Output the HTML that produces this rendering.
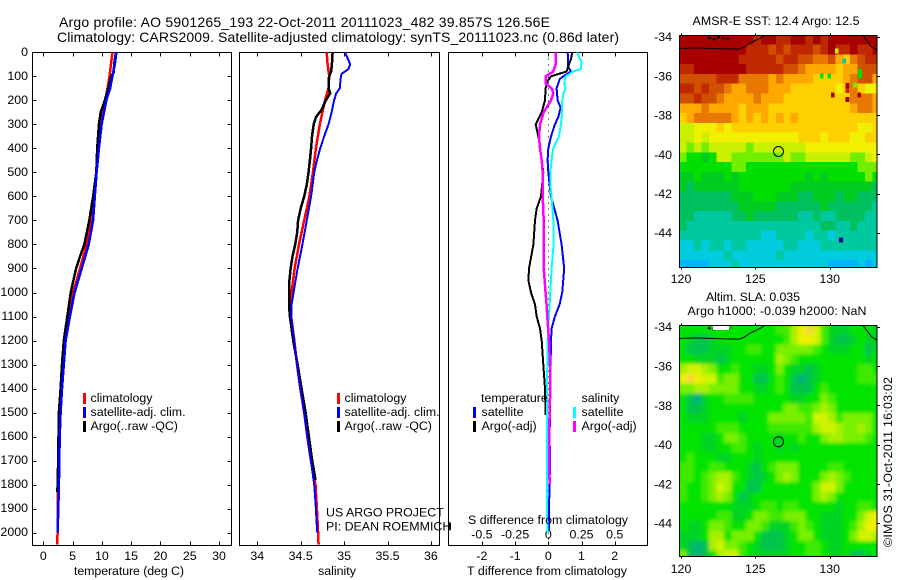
<!DOCTYPE html>
<html>
<head>
<meta charset="utf-8">
<title>Argo profile</title>
<style>
html,body{margin:0;padding:0;background:#fff;width:900px;height:580px;overflow:hidden}
svg{display:block}
text{font-family:"Liberation Sans",sans-serif;font-size:12.4px;fill:#000}
.title{font-size:14px}
</style>
</head>
<body>
<svg id="chart" xmlns="http://www.w3.org/2000/svg" width="900" height="580" viewBox="0 0 900 580">
<defs>
<clipPath id="clip-sst"><rect x="679.5" y="35.5" width="197" height="231.5"/></clipPath>
<clipPath id="clip-sla"><rect x="679.5" y="325.5" width="197" height="231"/></clipPath>
<filter id="sla-blur" x="-5%" y="-5%" width="110%" height="110%"><feGaussianBlur stdDeviation="1.8"/></filter>
</defs>
<text class="title" x="59" y="27" textLength="491">Argo profile: AO 5901265_193 22-Oct-2011 20111023_482 39.857S 126.56E</text>
<text class="title" x="57" y="42" textLength="562">Climatology: CARS2009. Satellite-adjusted climatology: synTS_20111023.nc (0.86d later)</text>

<g id="marks"></g>

<text x="129" y="575" text-anchor="middle" textLength="110">temperature (deg C)</text>
<text x="337" y="575" text-anchor="middle">salinity</text>
<text x="547" y="575" text-anchor="middle" textLength="160">T difference from climatology</text>
<text x="468" y="524" textLength="160">S difference from climatology</text>

<g>
<rect x="83" y="393" width="3" height="11" fill="#f00"/>
<rect x="83" y="407" width="3" height="11" fill="#00f"/>
<rect x="83" y="421" width="3" height="11" fill="#000"/>
<text x="90.5" y="402">climatology</text>
<text x="90.5" y="416">satellite-adj. clim.</text>
<text x="90.5" y="430">Argo(..raw -QC)</text>
</g>
<g>
<rect x="337" y="393" width="3" height="11" fill="#f00"/>
<rect x="337" y="407" width="3" height="11" fill="#00f"/>
<rect x="337" y="421" width="3" height="11" fill="#000"/>
<text x="344.5" y="402">climatology</text>
<text x="344.5" y="416">satellite-adj. clim.</text>
<text x="344.5" y="430">Argo(..raw -QC)</text>
</g>
<text x="326" y="516.5">US ARGO PROJECT</text>
<text x="326" y="530.5">PI: DEAN ROEMMICH</text>
<g>
<text x="481" y="402">temperature</text>
<text x="581.5" y="402">salinity</text>
<rect x="473" y="407" width="3" height="11" fill="#00f"/>
<rect x="473" y="421" width="3" height="11" fill="#000"/>
<rect x="573" y="407" width="3" height="11" fill="#0ff"/>
<rect x="573" y="421" width="3" height="11" fill="#f0f"/>
<text x="481.5" y="416">satellite</text>
<text x="481.5" y="430">Argo(-adj)</text>
<text x="581.5" y="416">satellite</text>
<text x="581.5" y="430">Argo(-adj)</text>
</g>
<path d="M448 526.5H451M450.5 523V530" stroke="#000" fill="none" shape-rendering="crispEdges"/>

<text x="776" y="25" text-anchor="middle" textLength="167">AMSR-E SST: 12.4  Argo: 12.5</text>
<text x="753" y="301" text-anchor="middle" textLength="94">Altim. SLA: 0.035</text>
<text x="777" y="315" text-anchor="middle" textLength="179">Argo h1000: -0.039 h2000: NaN</text>
<text transform="translate(892,547) rotate(-90)" textLength="170">©IMOS 31-Oct-2011 16:03:02</text>
</svg>

<script>
/* ---- profile data ---- */
const depthTicks = [0,100,200,300,400,500,600,700,800,900,1000,1100,1200,1300,1400,1500,1600,1700,1800,1900,2000];
const tempTicks = [0,5,10,15,20,25,30];
const salTicks = [34,34.5,35,35.5,36];
const diffTicks = [-2,-1,0,1,2];
const diffTickLabels = ['-2','-1','0','1','2'];
const sDiffTickLabels = ['-0.5','-0.25','0','0.25','0.5'];

const tempClimDepth = [0,100,200,300,400,500,600,700,800,900,1000,1100,1200,1300,1400,1500,1600,1700,1800,1900,2000,2050];
const tempClim = [11.8,11.3,10.6,9.7,9.3,9.05,8.7,8.25,7.4,6.26,5.1,4.4,3.75,3.4,3.07,2.85,2.73,2.67,2.5,2.5,2.45,2.35];
const tempSatDepth = [0,50,100,150,200,250,300,400,500,600,700,800,900,1000,1100,1200,1300,1400,1500,1600,1700,1800,1900,2000];
const tempSat = [12.46,12.2,11.8,11.4,10.75,10.36,9.96,9.5,9.1,8.8,8.5,7.75,6.55,5.35,4.55,3.8,3.5,3.2,2.96,2.8,2.73,2.67,2.56,2.45];
const tempArgoDepth = [0,50,85,100,150,200,250,300,400,500,600,700,800,850,900,1000,1100,1200,1300,1400,1500,1600,1700,1830];
const tempArgo = [12.4,12.1,12,11.6,11.1,10.5,9.8,9.5,9.2,9.05,8.5,7.85,7,6.26,5.6,4.67,4.1,3.5,3.2,2.96,2.67,2.6,2.55,2.4];

const salClimDepth = [0,50,100,150,200,250,300,400,500,600,700,800,900,1000,1100,1200,1300,1400,1500,1600,1700,1800,1900,2000,2050];
const salClim = [34.8,34.81,34.83,34.82,34.78,34.75,34.72,34.675,34.64,34.6,34.54,34.48,34.43,34.395,34.39,34.426,34.457,34.495,34.54,34.576,34.618,34.67,34.687,34.7,34.706];
const salSatDepth = [0,20,50,70,90,110,150,170,200,250,300,350,400,450,500,600,700,800,900,1000,1050,1100,1200,1300,1400,1500,1600,1700,1800,1900,2000];
const salSat = [35.01,35.035,35.07,35.05,34.97,34.96,34.95,34.91,34.885,34.856,34.82,34.77,34.725,34.687,34.656,34.62,34.57,34.52,34.464,34.418,34.395,34.39,34.426,34.457,34.495,34.54,34.576,34.618,34.656,34.675,34.69];
const salArgoDepth = [0,50,80,110,150,170,200,240,270,300,350,400,450,500,550,600,650,700,750,800,850,900,950,1000,1050,1100,1200,1300,1400,1500,1600,1700,1780];
const salArgo = [34.867,34.86,34.85,34.82,34.82,34.84,34.79,34.74,34.675,34.65,34.63,34.62,34.606,34.59,34.57,34.54,34.5,34.47,34.46,34.437,34.405,34.384,34.37,34.365,34.365,34.375,34.414,34.464,34.51,34.556,34.595,34.633,34.67];

const dTempSatDepth = [0,30,60,80,110,150,200,230,270,300,350,400,450,500,550,600,650,700,800,900,1000,1050,1100,1150,1200,1300,1400,1500,1600,1700,1800,1900,1990];
const dTempSat = [0.58,0.6,0.6,0.68,0.35,0.25,0.28,0.37,0.3,0.2,0.08,0,-0.02,0,0.04,0.08,0.18,0.28,0.4,0.48,0.42,0.34,0.2,0.1,0.08,0.07,0.06,0.05,0.04,0.05,0.04,0.02,0.02];
const dTempArgoDepth = [0,30,50,80,100,120,150,200,250,300,350,400,500,600,650,700,800,900,950,1000,1050,1100,1150,1200,1300,1400,1510];
const dTempArgo = [0.72,0.68,0.62,0.55,0.08,-0.02,-0.08,-0.1,-0.2,-0.38,-0.3,-0.24,-0.15,-0.22,-0.35,-0.4,-0.45,-0.58,-0.6,-0.52,-0.4,-0.35,-0.25,-0.2,-0.15,-0.1,-0.08];
const dSalSatDepth = [0,20,40,70,80,100,130,150,170,200,250,300,350,400,450,500,550,600,700,800,900,1000,1100,1200,1300,1400,1700,2000];
const dSalSat = [0.44,0.465,0.5,0.49,0.375,0.26,0.24,0.26,0.23,0.21,0.21,0.19,0.16,0.075,0.05,0.03,0.03,0.05,0.075,0.08,0.05,0.03,0.01,-0.01,-0.015,-0.02,-0.02,-0.015];
const dSalArgoDepth = [0,50,80,100,130,150,170,200,250,300,350,400,450,500,600,700,800,900,1000,1050,1100,1200,1300,1400,1500,1600,1700,1800];
const dSalArgo = [0.115,0.11,0.075,-0.04,-0.04,0.05,0.075,0.04,-0.07,-0.125,-0.14,-0.125,-0.1,-0.085,-0.085,-0.07,-0.07,-0.07,-0.04,-0.025,-0.015,0.01,0.025,0.03,0.02,0.015,0.015,0.02];

/* ---- map data ---- */
const lonTicks = [120,125,130];
const latTicks = [-34,-36,-38,-40,-42,-44];
const coastLonWest = [119.9,121,122,123,123.9,124.2,124.6,125,125.4,125.7];
const coastLatWest = [-34.6,-34.57,-34.6,-34.62,-34.63,-34.55,-34.35,-34.2,-34.05,-33.9];
const coastLonEast = [132.2,132.5,132.8,133.2];
const coastLatEast = [-33.9,-34.2,-34.5,-34.7];
const islandLon = [121.8,122.2,122.6,123,123.4];
const islandLat = [-34.05,-34.15,-34.0,-34.12,-34.05];
const floatLon = 126.56;
const floatLat = -39.857;

const sstPalette = ['#00b4ff','#00ccdd','#00c8a0','#00c060','#00cc20','#00e000','#70f000','#c8f000','#f0f000','#ffd000','#ffa800','#e87800','#d05000','#c02800','#a80000','#0000a0'];
const sstRows = [
[14,14,14,14,14,14,14,14,14,14,13,14,14,13,13,14,14,13,14,13,14,14,14,14,14,14,14],
[14,14,14,14,14,14,14,14,14,13,13,13,12,13,12,13,13,13,12,13,14,13,13,14,13,13,14],
[14,14,14,14,14,14,14,14,13,13,13,13,13,12,13,13,12,12,11,11,12,10,9,11,12,13,13],
[13,13,14,14,14,14,14,14,14,13,13,13,13,13,12,12,11,10,10,10,10,9,10,10,12,12,12],
[12,12,12,12,12,13,13,13,11,11,11,11,10,11,10,10,10,10,9,9,9,9,10,11,12,12,10],
[13,13,12,13,12,12,11,10,10,11,11,11,10,10,10,9,9,9,9,9,9,8,9,11,9,8,8],
[12,12,13,12,12,11,10,10,10,10,11,10,10,10,9,9,9,9,9,9,9,9,9,11,11,11,10],
[10,10,10,11,10,10,10,10,9,10,10,10,9,9,9,9,9,9,9,9,9,9,9,10,11,11,10],
[9,10,11,11,11,11,11,10,9,10,9,10,9,10,9,10,9,9,9,9,9,9,9,9,9,9,9],
[7,7,8,8,8,9,8,9,9,9,9,9,9,9,9,9,9,9,9,9,9,9,9,9,8,8,9],
[7,7,8,7,8,8,8,8,8,8,8,8,8,8,8,8,9,9,9,8,9,9,9,8,8,9,9],
[7,6,7,6,7,7,7,7,7,6,7,7,7,7,7,7,7,8,8,8,8,8,8,8,8,8,8],
[6,5,5,4,5,7,7,6,6,6,6,6,6,6,7,6,6,7,7,7,7,7,7,6,6,7,8],
[5,5,5,5,5,5,5,6,6,5,5,5,5,5,5,5,5,5,5,5,5,5,5,5,6,6,6],
[4,4,5,4,4,4,5,4,5,5,5,5,5,5,5,5,5,4,5,4,5,5,5,5,5,6,5],
[4,3,4,4,4,4,4,4,5,5,5,5,5,5,5,4,4,4,4,4,4,4,4,4,4,4,3],
[3,3,3,3,3,3,3,4,4,4,5,5,5,4,4,4,3,3,4,4,4,3,4,4,3,3,3],
[3,3,3,3,3,3,3,3,4,4,4,4,4,3,3,3,3,3,3,4,3,3,3,3,3,3,2],
[3,3,2,2,2,2,2,3,3,4,3,3,3,3,3,3,2,2,3,2,2,3,3,3,3,2,2],
[3,2,2,2,2,2,2,2,2,2,2,2,2,2,2,2,2,2,2,3,3,2,2,3,2,2,2],
[2,2,2,2,2,2,2,2,2,2,2,1,1,2,2,2,2,1,2,2,1,2,2,2,2,2,2],
[1,1,2,1,2,2,1,2,2,1,1,1,1,1,2,2,1,1,1,2,2,2,2,2,2,2,2],
[1,1,1,1,1,1,2,1,1,1,1,1,1,2,1,1,1,1,1,1,1,1,1,1,1,1,1],
[0,0,0,0,1,1,1,2,1,1,1,1,1,1,1,1,1,1,1,1,0,0,0,0,1,0,1]
];
const sstSpotLon = [129.46,129.97,130.47,130.98,132.04,132.04,131.7,130.2,131.2,131.2,131.2,132,130.76];
const sstSpotLat = [-36,-36,-34.73,-35.24,-35.78,-36,-36.47,-36.97,-36.5,-36.75,-37.2,-36.97,-44.37];
const sstSpotLevel = [5,5,7,2,5,5,6,14,14,13,14,14,15];

const slaPalette = ['#00b478','#00c44c','#00d420','#00e400','#3cea00','#78f000','#a8f000','#d0f400','#f0f000','#f4d838'];
const slaRows = [
[3,3,3,3,3,3,3,3,3,3,3,3,3,4,4,6,8,9,7,4,2,2,2,3,3,3,2],
[3,2,1,1,2,3,3,3,3,3,3,3,3,3,4,6,8,8,7,4,2,1,1,2,3,2,2],
[3,1,1,1,2,2,2,3,3,4,4,3,3,5,5,5,5,5,4,3,2,2,2,3,3,1,2],
[3,3,2,2,2,1,2,3,3,3,3,3,3,6,5,4,3,3,3,3,3,3,3,3,3,2,3],
[6,7,7,6,5,3,3,4,3,3,2,2,3,5,3,2,2,1,2,3,3,3,3,3,4,4,3],
[8,9,8,7,7,4,5,5,3,3,1,1,3,4,3,1,0,1,2,3,3,3,3,3,4,4,4],
[5,5,6,6,5,5,5,5,3,3,2,2,3,4,3,1,1,1,3,4,3,3,3,3,3,3,3],
[3,1,0,2,3,3,4,4,4,4,3,3,3,3,3,2,2,3,3,5,4,3,3,3,3,3,3],
[3,1,1,2,3,3,3,3,3,3,3,3,3,3,5,5,4,4,5,6,5,3,3,3,3,3,3],
[3,2,2,2,3,3,3,3,2,3,3,3,5,5,5,5,5,4,7,7,6,4,5,5,5,5,3],
[3,3,3,3,3,4,4,4,3,3,3,3,4,4,4,4,4,4,6,7,7,6,5,5,6,5,3],
[3,3,3,2,2,3,5,5,4,3,3,3,3,2,3,3,4,3,3,5,6,6,5,5,5,4,3],
[3,3,3,2,2,3,3,4,4,3,2,3,3,2,3,2,3,3,3,3,3,3,3,3,3,3,3],
[3,4,3,3,3,2,2,3,3,3,2,3,3,3,3,3,3,3,3,3,3,3,3,3,3,3,3],
[4,4,3,3,4,4,3,3,3,2,1,3,4,5,5,5,3,3,3,3,4,4,3,3,3,3,3],
[4,4,3,4,5,6,6,4,3,2,1,2,3,5,6,5,3,3,3,5,6,5,4,3,3,3,3],
[4,3,3,4,5,7,6,3,3,1,1,3,3,3,3,3,3,3,5,7,7,5,3,3,3,3,3],
[4,3,3,4,5,6,5,3,1,2,3,3,3,3,3,3,3,3,5,6,5,3,3,3,3,3,3],
[3,3,3,3,3,3,3,2,2,2,3,4,4,3,4,4,3,3,3,3,3,2,3,3,4,4,3],
[3,3,3,3,3,4,4,2,2,3,5,5,4,4,5,5,5,3,3,2,2,2,3,3,5,7,8],
[3,2,2,3,5,5,4,3,3,5,5,4,2,2,2,4,5,4,3,2,2,2,3,4,6,8,8],
[2,2,2,3,6,6,3,5,5,5,3,1,1,1,2,3,5,5,3,2,2,2,3,5,7,7,6],
[2,1,0,1,6,7,5,5,4,3,2,1,1,1,2,3,3,4,4,3,2,2,3,3,3,3,3],
[5,1,0,1,3,6,7,7,4,3,2,2,2,2,2,3,3,4,4,3,2,2,3,1,1,2,3]
];

/* ---- axis functions ---- */
const depthY = d => 52.3 + 0.2402 * d;
const tempX = t => 43.3 + 5.857 * t;
const salX = s => 257.3 + 86.8 * (s - 34);
const diffX = v => 548.3 + 33.2 * v;
const sDiffX = v => 548.3 + 66.4 * v;
const lonX = lon => 681 + 14.87 * (lon - 120);
const sstLatY = lat => 36.7 + 19.6 * (-34 - lat);
const slaLatY = lat => 326.7 + 19.65 * (-34 - lat);

const NS = 'http://www.w3.org/2000/svg';
const root = document.getElementById('marks');
function mk(tag, attrs, parent) {
  const e = document.createElementNS(NS, tag);
  for (const k in attrs) e.setAttribute(k, attrs[k]);
  (parent || root).appendChild(e);
  return e;
}
function hair(x1, y1, x2, y2, parent) {
  return mk('line', {x1: x1, y1: y1, x2: x2, y2: y2, stroke: '#000', 'stroke-width': 1, 'shape-rendering': 'crispEdges'}, parent);
}
function pts(depths, values, xf) {
  return depths.map((d, i) => xf(values[i]).toFixed(1) + ',' + depthY(d).toFixed(1)).join(' ');
}

/* ---- profile panels ---- */
const top0 = 52.5, bot0 = 545.5;
function frame(x0, x1, name) {
  const r = mk('rect', {x: x0, y: top0, width: x1 - x0, height: bot0 - top0, fill: '#fff', stroke: '#000', 'stroke-width': 1, 'shape-rendering': 'crispEdges'});
  
  
}
frame(32.5, 231.5, 'temperature-panel-frame');
frame(239.5, 439.5, 'salinity-panel-frame');
frame(448.5, 647.5, 'difference-panel-frame');

function xAxis(ticks, labels, xf, labelY) {
  ticks.forEach((t, i) => {
    const x = Math.round(xf(t)) + 0.5;
    const a = hair(x, top0, x, top0 + 4);
    
    
    const b = hair(x, bot0 - 4, x, bot0);
    
    
    const l = mk('text', {x: xf(t), y: labelY, 'text-anchor': 'middle'});
    l.textContent = labels[i];
    
    
  });
}
xAxis(tempTicks, tempTicks.map(String), tempX, 560);
xAxis(salTicks, salTicks.map(String), salX, 560);
xAxis(diffTicks, diffTickLabels, diffX, 560);
sDiffTickLabels.forEach((lab, i) => {
  const l = mk('text', {x: diffX(diffTicks[i]), y: 538.5, 'text-anchor': 'middle'});
  l.textContent = lab;
  
  
});

depthTicks.forEach(d => {
  const y = Math.round(depthY(d)) + 0.5;
  const a = hair(32.5, y, 36.5, y);
  
  
  const b = hair(227.5, y, 231.5, y);
  
  
  const l = mk('text', {x: 28, y: depthY(d) + 3.5, 'text-anchor': 'end'});
  l.textContent = String(d);
  
  
});

const zero = mk('line', {x1: 548.5, y1: top0, x2: 548.5, y2: bot0, stroke: '#000', 'stroke-width': 1, 'stroke-dasharray': '1 5', 'shape-rendering': 'crispEdges'});



function line(depths, values, xf, color, w) {
  return mk('polyline', {points: pts(depths, values, xf), fill: 'none', stroke: color, 'stroke-width': w, 'shape-rendering': 'crispEdges', 'stroke-linejoin': 'round'});
}
const c1 = line(tempClimDepth, tempClim, tempX, '#f00', 2.5);


const c2 = line(tempArgoDepth, tempArgo, tempX, '#000', 2.5);


const c3 = line(tempSatDepth, tempSat, tempX, '#00f', 2.5);


const c4 = line(salClimDepth, salClim, salX, '#f00', 2.5);


const c5 = line(salArgoDepth, salArgo, salX, '#000', 2.5);


const c6 = line(salSatDepth, salSat, salX, '#00f', 2);


const c7 = line(dTempSatDepth, dTempSat, diffX, '#00f', 2);


const c8 = line(dTempArgoDepth, dTempArgo, diffX, '#000', 2);


const c9 = line(dSalSatDepth, dSalSat, sDiffX, '#0ff', 2);


const c10 = line(dSalArgoDepth, dSalArgo, sDiffX, '#f0f', 2.5);



/* ---- maps ---- */
function drawMap(rows, palette, latY, clipId, top, bottom, labelY, mapName, smooth) {
  const g = mk('g', {'clip-path': 'url(#' + clipId + ')'});
  
  
  const base = mk('rect', {x: 679, y: top, width: 198, height: bottom - top, fill: palette[3]}, g);
  
  
  const cells = mk('g', smooth ? {filter: 'url(#sla-blur)'} : {}, g);
  
  
  rows.forEach((row, r) => {
    row.forEach((level, c) => {
      const x0 = lonX(119.88 + c * 0.5), x1 = lonX(119.88 + (c + 1) * 0.5);
      const y0 = latY(-33.9 - r * 0.5), y1 = latY(-33.9 - (r + 1) * 0.5);
      const cell = mk('rect', {x: x0.toFixed(1), y: y0.toFixed(1), width: (x1 - x0 + 0.4).toFixed(1), height: (y1 - y0 + 0.4).toFixed(1), fill: palette[level], 'shape-rendering': 'crispEdges'}, cells);
      
      
    });
  });
  const cw = mk('polyline', {points: coastLonWest.map((v, i) => lonX(v).toFixed(1) + ',' + latY(coastLatWest[i]).toFixed(1)).join(' '), fill: 'none', stroke: '#000', 'stroke-width': 1}, g);
  
  
  const ce = mk('polyline', {points: coastLonEast.map((v, i) => lonX(v).toFixed(1) + ',' + latY(coastLatEast[i]).toFixed(1)).join(' '), fill: 'none', stroke: '#000', 'stroke-width': 1}, g);
  
  
  const isl = mk('polyline', {points: islandLon.map((v, i) => lonX(v).toFixed(1) + ',' + latY(islandLat[i]).toFixed(1)).join(' '), fill: 'none', stroke: '#000', 'stroke-width': 2, 'stroke-dasharray': '3 2'}, g);
  
  

  const f = mk('rect', {x: 679.5, y: top, width: 197.5, height: bottom - top, fill: 'none', stroke: '#000', 'stroke-width': 1, 'shape-rendering': 'crispEdges'});
  
  

  lonTicks.forEach(lon => {
    const x = Math.round(lonX(lon)) + 0.5;
    const a = hair(x, top - 2, x, top);
    
    
    const b = hair(x, bottom, x, bottom + 2);
    
    
    const l = mk('text', {x: lonX(lon), y: labelY, 'text-anchor': 'middle'});
    l.textContent = String(lon);
    
    
  });
  latTicks.forEach(lat => {
    const y = Math.round(latY(lat)) + 0.5;
    const t = hair(877, y, 880, y);
    
    
    const l = mk('text', {x: 672, y: latY(lat) + 4.5, 'text-anchor': 'end'});
    l.textContent = String(lat);
    
    
  });
  const m = mk('circle', {cx: lonX(floatLon).toFixed(1), cy: latY(floatLat).toFixed(1), r: 5, fill: 'none', stroke: '#000', 'stroke-width': 1});
  
  
}
drawMap(sstRows, sstPalette, sstLatY, 'clip-sst', 35.5, 267.5, 283, 'sst-map', false);
drawMap(slaRows, slaPalette, slaLatY, 'clip-sla', 325.5, 556.5, 573, 'sla-map', true);

sstSpotLon.forEach((lon, i) => {
  const spot = mk('rect', {x: (lonX(lon) - 1.9).toFixed(1), y: (sstLatY(sstSpotLat[i]) - 2.5).toFixed(1), width: 3.7, height: 4.9, fill: sstPalette[sstSpotLevel[i]], 'shape-rendering': 'crispEdges'});
  
  
});
const landGap = mk('rect', {x: 713, y: 326, width: 16, height: 4, fill: '#fff', 'shape-rendering': 'crispEdges'});


</script>
</body>
</html>
